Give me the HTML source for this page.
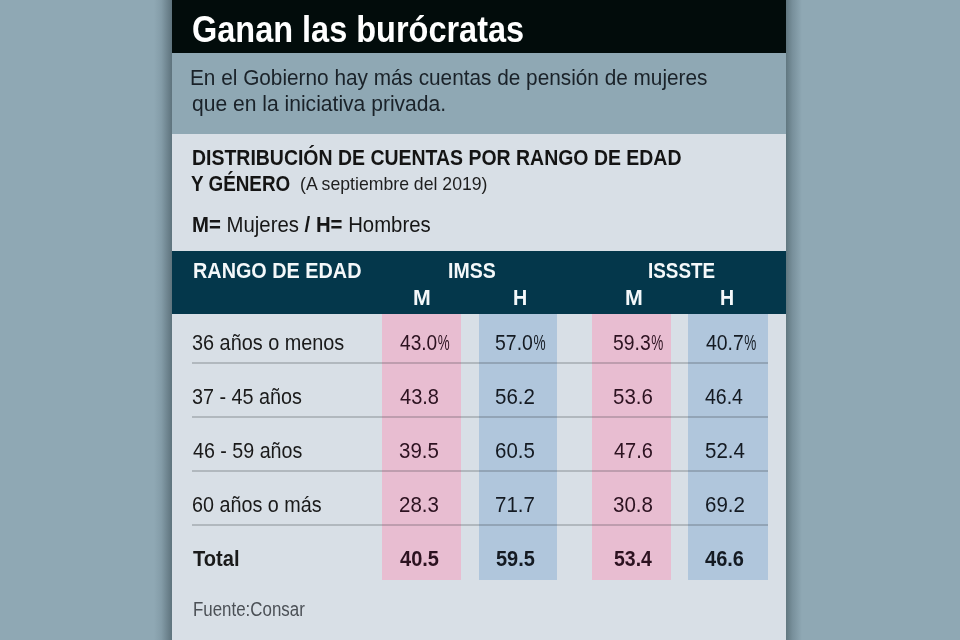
<!DOCTYPE html>
<html lang="es"><head><meta charset="utf-8"><title>Ganan las burócratas</title>
<style>
*{margin:0;padding:0;box-sizing:border-box}
html,body{width:960px;height:640px;overflow:hidden;background:#8fa8b4}
body{position:relative;font-family:"Liberation Sans", Arial, sans-serif}
.a{position:absolute}
.t{position:absolute;white-space:nowrap;line-height:normal}
.t span{display:inline-block;transform-origin:0 0}
.pc{font-style:normal;display:inline-block;transform:scaleX(0.7);transform-origin:0 0;width:0.63em;margin-left:0.02em}
</style></head>
<body>
<div class="a" style="left:154px;top:0;width:18px;height:640px;background:linear-gradient(to right, rgba(50,70,80,0) 0%, rgba(50,70,80,0.12) 40%, rgba(45,62,70,0.5) 100%)"></div>
<div class="a" style="left:786px;top:0;width:16px;height:640px;background:linear-gradient(to right, rgba(50,70,75,0.5) 0%, rgba(50,70,80,0.25) 40%, rgba(50,70,80,0) 100%)"></div>
<div class="a" style="left:172px;top:0;width:614px;height:53px;background:#020c0b"></div>
<div class="a" style="left:172px;top:53px;width:614px;height:81px;background:#8fa8b4"></div>
<div class="a" style="left:172px;top:134px;width:614px;height:506px;background:#d8dfe6"></div>
<div class="a" style="left:172px;top:251px;width:614px;height:63px;background:#04374b"></div>
<div class="a" style="left:382px;top:314px;width:79px;height:266px;background:#e8bdd1"></div>
<div class="a" style="left:479px;top:314px;width:78px;height:266px;background:#b0c6dc"></div>
<div class="a" style="left:592px;top:314px;width:79px;height:266px;background:#e8bdd1"></div>
<div class="a" style="left:688px;top:314px;width:80px;height:266px;background:#b0c6dc"></div>
<div class="a" style="left:192px;top:362px;width:576px;height:2px;background:rgba(40,45,50,0.22)"></div>
<div class="a" style="left:192px;top:416px;width:576px;height:2px;background:rgba(40,45,50,0.22)"></div>
<div class="a" style="left:192px;top:470px;width:576px;height:2px;background:rgba(40,45,50,0.22)"></div>
<div class="a" style="left:192px;top:524px;width:576px;height:2px;background:rgba(40,45,50,0.22)"></div>
<div class="t" id="title" style="left:191.72px;top:9.27px;font-size:36.5px;font-weight:700;color:#ffffff"><span style="transform:scaleX(0.8898)">Ganan las burócratas</span></div>
<div class="t" id="sub1" style="left:189.76px;top:65.84px;font-size:21.5px;font-weight:400;color:#1a2229"><span style="transform:scaleX(0.9664)">En el Gobierno hay más cuentas de pensión de mujeres</span></div>
<div class="t" id="sub2" style="left:191.64px;top:91.84px;font-size:21.5px;font-weight:400;color:#1a2229"><span style="transform:scaleX(0.9798)">que en la iniciativa privada.</span></div>
<div class="t" id="sec1" style="left:192.33px;top:145.05px;font-size:21.6px;font-weight:700;color:#141414"><span style="transform:scaleX(0.9013)">DISTRIBUCIÓN DE CUENTAS POR RANGO DE EDAD</span></div>
<div class="t" id="sec2" style="left:191.20px;top:170.95px;font-size:21.6px;font-weight:700;color:#141414"><span style="transform:scaleX(0.8732)">Y GÉNERO</span></div>
<div class="t" id="sec3" style="left:299.65px;top:173.41px;font-size:19px;font-weight:400;color:#1e1e1e"><span style="transform:scaleX(0.9295)">(A septiembre del 2019)</span></div>
<div class="t" id="leg" style="left:192.27px;top:211.71px;font-size:22.2px;font-weight:400;color:#161616"><span style="transform:scaleX(0.9174)"><b>M=</b> Mujeres <b>/</b> <b>H=</b> Hombres</span></div>
<div class="t" id="hrango" style="left:192.77px;top:258.09px;font-size:22px;font-weight:700;color:#f4f8fa"><span style="transform:scaleX(0.9010)">RANGO DE EDAD</span></div>
<div class="t" id="himss" style="left:447.68px;top:258.09px;font-size:22px;font-weight:700;color:#f4f8fa"><span style="transform:scaleX(0.8871)">IMSS</span></div>
<div class="t" id="hissste" style="left:647.71px;top:258.09px;font-size:22px;font-weight:700;color:#f4f8fa"><span style="transform:scaleX(0.8566)">ISSSTE</span></div>
<div class="t" id="hm1" style="left:412.91px;top:284.55px;font-size:22.6px;font-weight:700;color:#f4f8fa"><span style="transform:scaleX(0.9433)">M</span></div>
<div class="t" id="hh1" style="left:513.37px;top:284.55px;font-size:22.6px;font-weight:700;color:#f4f8fa"><span style="transform:scaleX(0.8713)">H</span></div>
<div class="t" id="hm2" style="left:625.23px;top:284.55px;font-size:22.6px;font-weight:700;color:#f4f8fa"><span style="transform:scaleX(0.9452)">M</span></div>
<div class="t" id="hh2" style="left:720.18px;top:284.55px;font-size:22.6px;font-weight:700;color:#f4f8fa"><span style="transform:scaleX(0.8660)">H</span></div>
<div class="t" id="r0l" style="left:192.08px;top:329.82px;font-size:22.3px;font-weight:400;color:#1a1a1a"><span style="transform:scaleX(0.8902)">36 años o menos</span></div>
<div class="t" id="r0v0" style="left:400.00px;top:329.82px;font-size:22.3px;font-weight:400;color:#2c1220"><span style="transform:scaleX(0.8569)">43.0<i class="pc">%</i></span></div>
<div class="t" id="r0v1" style="left:495.01px;top:329.82px;font-size:22.3px;font-weight:400;color:#141a22"><span style="transform:scaleX(0.8733)">57.0<i class="pc">%</i></span></div>
<div class="t" id="r0v2" style="left:613.35px;top:329.82px;font-size:22.3px;font-weight:400;color:#2c1220"><span style="transform:scaleX(0.8671)">59.3<i class="pc">%</i></span></div>
<div class="t" id="r0v3" style="left:705.98px;top:329.82px;font-size:22.3px;font-weight:400;color:#141a22"><span style="transform:scaleX(0.8697)">40.7<i class="pc">%</i></span></div>
<div class="t" id="r1l" style="left:192.02px;top:383.82px;font-size:22.3px;font-weight:400;color:#1a1a1a"><span style="transform:scaleX(0.8875)">37 - 45 años</span></div>
<div class="t" id="r1v0" style="left:400.00px;top:383.82px;font-size:22.3px;font-weight:400;color:#2c1220"><span style="transform:scaleX(0.8975)">43.8</span></div>
<div class="t" id="r1v1" style="left:494.93px;top:383.82px;font-size:22.3px;font-weight:400;color:#141a22"><span style="transform:scaleX(0.9195)">56.2</span></div>
<div class="t" id="r1v2" style="left:613.43px;top:383.82px;font-size:22.3px;font-weight:400;color:#2c1220"><span style="transform:scaleX(0.9194)">53.6</span></div>
<div class="t" id="r1v3" style="left:705.01px;top:383.82px;font-size:22.3px;font-weight:400;color:#141a22"><span style="transform:scaleX(0.8747)">46.4</span></div>
<div class="t" id="r2l" style="left:193.00px;top:437.82px;font-size:22.3px;font-weight:400;color:#1a1a1a"><span style="transform:scaleX(0.8819)">46 - 59 años</span></div>
<div class="t" id="r2v0" style="left:398.92px;top:437.82px;font-size:22.3px;font-weight:400;color:#2c1220"><span style="transform:scaleX(0.9188)">39.5</span></div>
<div class="t" id="r2v1" style="left:494.92px;top:437.82px;font-size:22.3px;font-weight:400;color:#141a22"><span style="transform:scaleX(0.9188)">60.5</span></div>
<div class="t" id="r2v2" style="left:614.47px;top:437.82px;font-size:22.3px;font-weight:400;color:#2c1220"><span style="transform:scaleX(0.8970)">47.6</span></div>
<div class="t" id="r2v3" style="left:704.95px;top:437.82px;font-size:22.3px;font-weight:400;color:#141a22"><span style="transform:scaleX(0.9193)">52.4</span></div>
<div class="t" id="r3l" style="left:192.04px;top:491.82px;font-size:22.3px;font-weight:400;color:#1a1a1a"><span style="transform:scaleX(0.8860)">60 años o más</span></div>
<div class="t" id="r3v0" style="left:398.92px;top:491.82px;font-size:22.3px;font-weight:400;color:#2c1220"><span style="transform:scaleX(0.9188)">28.3</span></div>
<div class="t" id="r3v1" style="left:494.93px;top:491.82px;font-size:22.3px;font-weight:400;color:#141a22"><span style="transform:scaleX(0.9195)">71.7</span></div>
<div class="t" id="r3v2" style="left:613.40px;top:491.82px;font-size:22.3px;font-weight:400;color:#2c1220"><span style="transform:scaleX(0.9216)">30.8</span></div>
<div class="t" id="r3v3" style="left:704.93px;top:491.82px;font-size:22.3px;font-weight:400;color:#141a22"><span style="transform:scaleX(0.9195)">69.2</span></div>
<div class="t" id="r4l" style="left:193.00px;top:545.82px;font-size:22.3px;font-weight:700;color:#1a1a1a"><span style="transform:scaleX(0.9013)">Total</span></div>
<div class="t" id="r4v0" style="left:400.00px;top:545.82px;font-size:22.3px;font-weight:700;color:#2c1220"><span style="transform:scaleX(0.8973)">40.5</span></div>
<div class="t" id="r4v1" style="left:496.00px;top:545.82px;font-size:22.3px;font-weight:700;color:#141a22"><span style="transform:scaleX(0.8951)">59.5</span></div>
<div class="t" id="r4v2" style="left:614.45px;top:545.82px;font-size:22.3px;font-weight:700;color:#2c1220"><span style="transform:scaleX(0.8731)">53.4</span></div>
<div class="t" id="r4v3" style="left:705.00px;top:545.82px;font-size:22.3px;font-weight:700;color:#141a22"><span style="transform:scaleX(0.8977)">46.6</span></div>
<div class="t" id="src" style="left:192.62px;top:597.85px;font-size:19.5px;font-weight:400;color:#4b5056"><span style="transform:scaleX(0.8666)">Fuente:Consar</span></div>
</body></html>
